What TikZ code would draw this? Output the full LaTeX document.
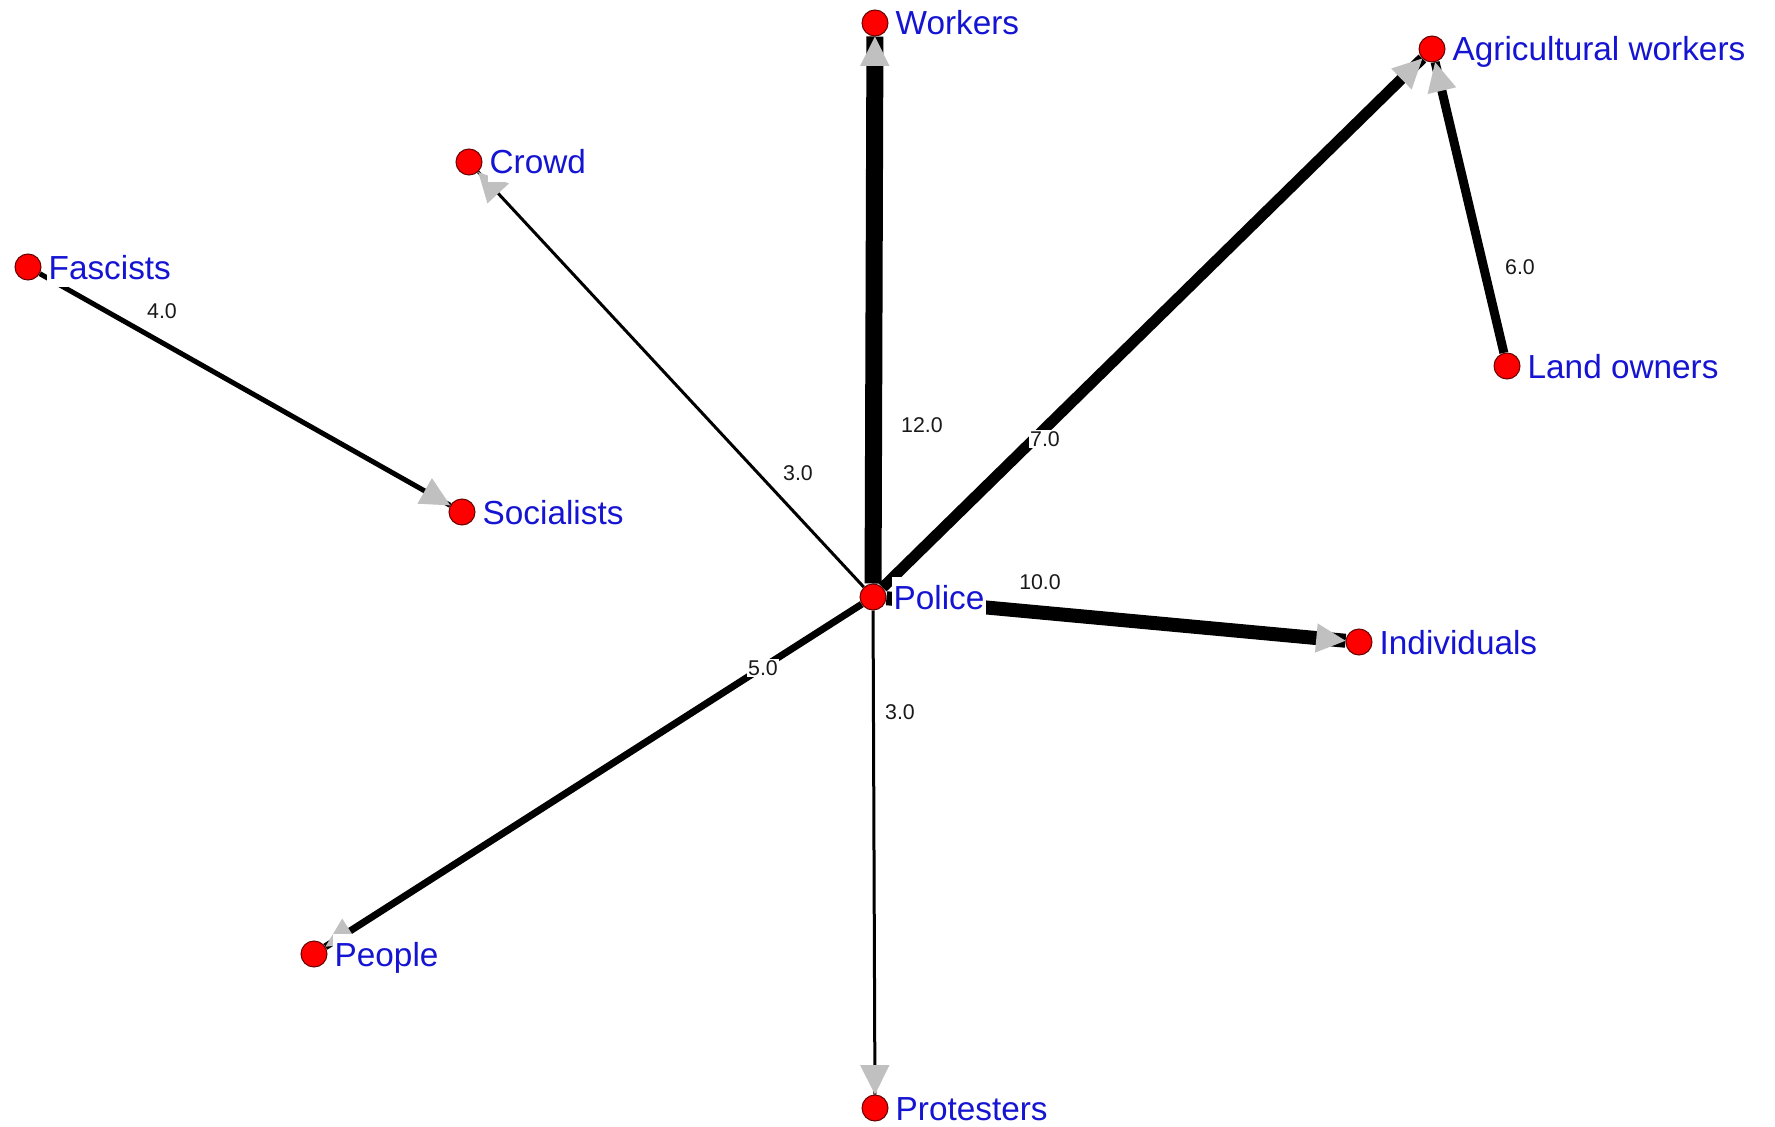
\documentclass[tikz,border=0pt]{standalone}
\usepackage{fontspec}
\setmainfont{Liberation Sans}
\usetikzlibrary{arrows.meta,decorations.markings,backgrounds}

\definecolor{dotred}{RGB}{255,0,0}
\definecolor{dotrim}{RGB}{100,0,0}
\definecolor{nameblue}{RGB}{20,20,210}
\definecolor{tipgray}{RGB}{192,192,192}

\tikzset{every picture/.style={line width=0.75pt}}
\tikzset{
  actor/.style={circle, fill=dotred, draw=dotrim, line width=0.75pt, minimum size=19.5pt, inner sep=0pt},
  actor label/.style={fill=white, text=nameblue, inner sep=1pt, text height=23pt, text depth=5pt,
    font=\fontsize{25}{30}\selectfont},
  tie/.style={draw=black, postaction=decorate,
    decoration={markings, mark=at position 1 with {\arrow{Triangle[length=22pt,width=22pt,line width=0pt,color=tipgray]}}}},
  weight/.style={fill=white, inner sep=1pt, text=black!90, font=\fontsize{16}{19}\selectfont}
}

\begin{document}
\begin{tikzpicture}[x=0.75pt,y=0.75pt,yscale=-1,xscale=1,label distance=4pt]
\useasboundingbox (0,0) rectangle (1775,1127);

% Actors
\node[actor, label={[actor label]right:Police}] (police) at (873,597) {};
\node[actor, label={[actor label]right:Workers}] (workers) at (875,23) {};
\node[actor, label={[actor label]right:Agricultural workers}] (agri) at (1432,49) {};
\node[actor, label={[actor label]right:Crowd}] (crowd) at (469,162) {};
\node[actor, label={[actor label]right:Fascists}] (fascists) at (28,267) {};
\node[actor, label={[actor label]right:Land owners}] (landowners) at (1507,366) {};
\node[actor, label={[actor label]right:Socialists}] (socialists) at (462,512) {};
\node[actor, label={[actor label]right:Individuals}] (individuals) at (1359,642) {};
\node[actor, label={[actor label]right:People}] (people) at (314,954) {};
\node[actor, label={[actor label]right:Protesters}] (protesters) at (875,1108) {};

\begin{scope}[on background layer]
\fill[white] (0,0) rectangle (1775,1127);
%Straight Lines
\draw[tie, line width=12.75pt] (police) -- (workers);
%Straight Lines
\draw[tie, line width=8.25pt] (police) -- (agri);
%Straight Lines
\draw[tie, line width=2.25pt] (police) -- (crowd);
%Straight Lines
\draw[tie, line width=10.5pt] (police) -- (individuals);
%Straight Lines
\draw[tie, line width=5.25pt] (police) -- (people);
%Straight Lines
\draw[tie, line width=2.25pt] (police) -- (protesters);
%Straight Lines
\draw[tie, line width=6.75pt] (landowners) -- (agri);
%Straight Lines
\draw[tie, line width=3.75pt] (fascists) -- (socialists);
\end{scope}

% Text Node
\node[weight] (w-workers) at (922,425) {12.0};
% Text Node
\node[weight] (w-agri) at (1045,439) {7.0};
% Text Node
\node[weight] (w-crowd) at (798,473) {3.0};
% Text Node
\node[weight] (w-individuals) at (1040,582) {10.0};
% Text Node
\node[weight] (w-people) at (763,668) {5.0};
% Text Node
\node[weight] (w-protesters) at (900,712) {3.0};
% Text Node
\node[weight] (w-socialists) at (162,311) {4.0};
% Text Node
\node[weight] (w-landowners) at (1520,267) {6.0};

\end{tikzpicture}
\end{document}
